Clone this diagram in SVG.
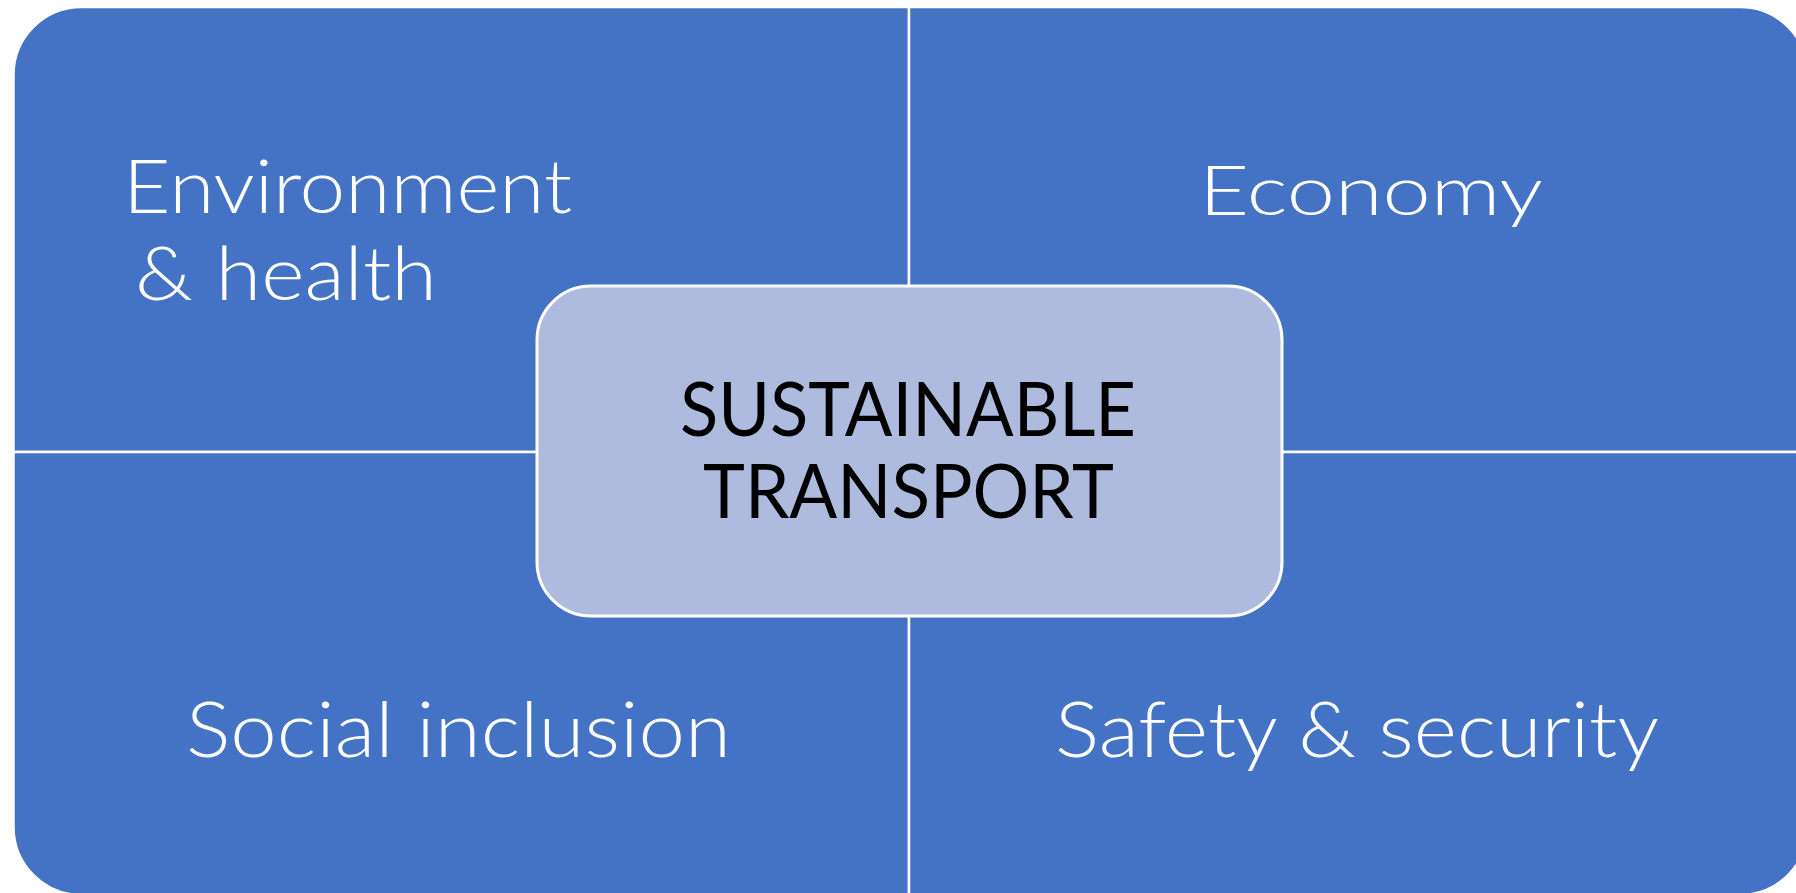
<svg xmlns="http://www.w3.org/2000/svg" width="1796" height="893" viewBox="0 0 1796 893">
  <style>
    .quad { fill: #4472C4; stroke: #FFFFFF; stroke-width: 2.5; }
    .center { fill: #AFBBDE; stroke: #FFFFFF; stroke-width: 3; }
    .lbl { font-family: Lato, "Liberation Sans", sans-serif; font-weight: 300; fill: #FFFFFF; }
    .ctr { font-family: Lato, "Liberation Sans", sans-serif; font-weight: 400; fill: #000000; font-size: 76px; }
  </style>
  <rect x="0" y="0" width="1796" height="893" fill="#FFFFFF"/>
  <g id="environment-health">
    <path class="quad" d="M13.5,75 A68,68 0 0 1 81.5,7 L909,7 L909,452 L13.5,452 Z"/>
    <text class="lbl" font-size="74" x="123" y="213" textLength="449" lengthAdjust="spacingAndGlyphs">Environment</text>
    <text class="lbl" font-size="74" x="135" y="300" textLength="302" lengthAdjust="spacingAndGlyphs">&amp; health</text>
  </g>
  <g id="economy">
    <path class="quad" d="M909,7 L1740,7 A68,68 0 0 1 1808,75 L1808,452 L909,452 Z"/>
    <text class="lbl" font-size="68" x="1199" y="215" textLength="344" lengthAdjust="spacingAndGlyphs">Economy</text>
  </g>
  <g id="social-inclusion">
    <path class="quad" d="M13.5,452 L909,452 L909,895 L81.5,895 A68,68 0 0 1 13.5,827 Z"/>
    <text class="lbl" font-size="77" x="186" y="757" textLength="545" lengthAdjust="spacingAndGlyphs">Social inclusion</text>
  </g>
  <g id="safety-security">
    <path class="quad" d="M909,452 L1808,452 L1808,827 A68,68 0 0 1 1740,895 L909,895 Z"/>
    <text class="lbl" font-size="77" x="1055" y="757" textLength="604" lengthAdjust="spacingAndGlyphs">Safety &amp; security</text>
  </g>
  <g id="connectors"></g>
  <g id="sustainable-transport">
    <rect class="center" x="537" y="286" width="745" height="330" rx="54" ry="54"/>
    <text class="ctr" x="680" y="436" textLength="456" lengthAdjust="spacingAndGlyphs">SUSTAINABLE</text>
    <text class="ctr" x="703" y="518" textLength="411" lengthAdjust="spacingAndGlyphs">TRANSPORT</text>
  </g>
</svg>
